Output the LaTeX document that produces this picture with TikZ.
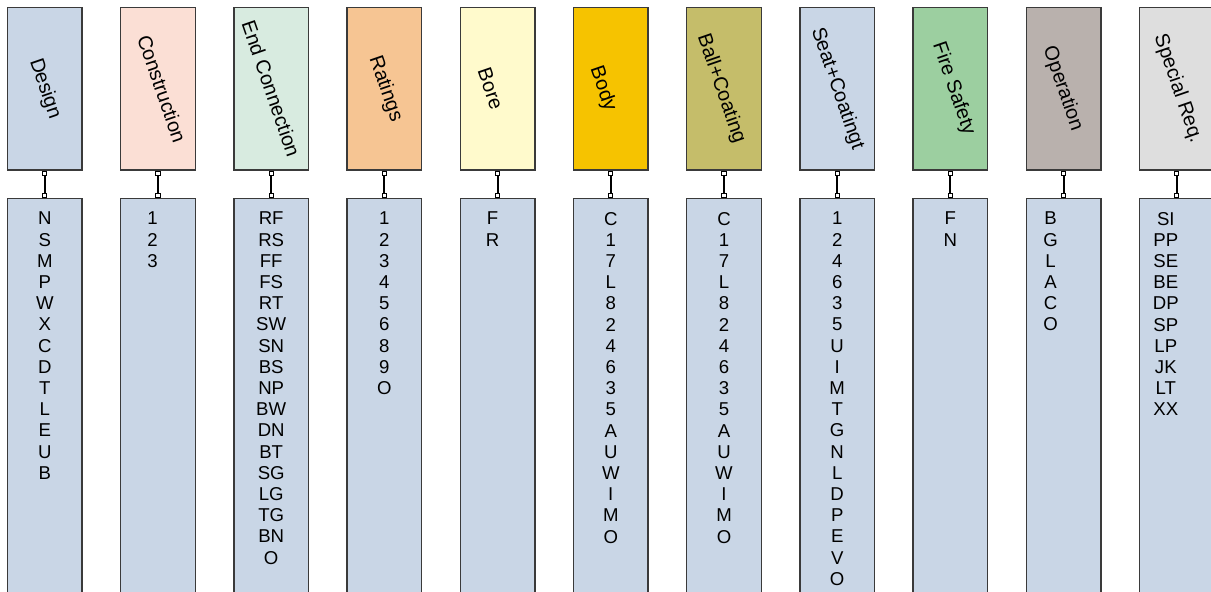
\documentclass[tikz,border=0pt]{standalone}
\usepackage{fontspec}
\setmainfont{Liberation Sans}
\usetikzlibrary{arrows.meta}
\definecolor{boxline}{HTML}{3A3A3A}
\definecolor{listblue}{HTML}{C9D6E6}
\definecolor{cdesign}{HTML}{C9D6E6}
\definecolor{cconstr}{HTML}{FBDFD5}
\definecolor{cend}{HTML}{D8EBE0}
\definecolor{crating}{HTML}{F6C593}
\definecolor{cbore}{HTML}{FFFACC}
\definecolor{cbody}{HTML}{F6C300}
\definecolor{cball}{HTML}{C5BD6A}
\definecolor{cseat}{HTML}{C9D6E6}
\definecolor{cfire}{HTML}{9CCFA0}
\definecolor{coper}{HTML}{B9B1AD}
\definecolor{cspecial}{HTML}{DEDEDE}
\tikzset{
  headbox/.style={draw=boxline, line width=0.7pt, minimum width=37.35pt, minimum height=81.25pt, inner sep=0pt},
  listbox/.style={draw=boxline, line width=0.7pt, fill=listblue, minimum width=37.35pt, minimum height=200pt, anchor=north, inner sep=0pt},
  headtxt/.style={font=\fontsize{10}{12}\selectfont, rotate=-71, inner sep=0pt},
  listtxt/.style={font=\fontsize{9.3}{10.6}\selectfont, align=center, anchor=north, inner sep=0pt},
  link/.style={line width=1pt, {Square[open,length=2.6pt,width=2.6pt,line width=0.5pt]}-{Square[open,length=2.6pt,width=2.6pt,line width=0.5pt]}}
}
\begin{document}
\begin{tikzpicture}[x=0.5pt,y=-0.5pt]
  \useasboundingbox (0,0) rectangle (1211,591);
  \clip (0,0) rectangle (1211,591);
  \foreach \i/\col/\head/\hx/\items/\lx in {
    0/cdesign/Design/0/{N\\S\\M\\P\\W\\X\\C\\D\\T\\L\\E\\U\\B}/0,
    1/cconstr/Construction/2/{1\\2\\3}/-2.75,
    2/cend/End Connection/0/{RF\\RS\\FF\\FS\\RT\\SW\\SN\\BS\\NP\\BW\\DN\\BT\\SG\\LG\\TG\\BN\\O}/0,
    3/crating/Ratings/0.5/{1\\2\\3\\4\\5\\6\\8\\9\\O}/0,
    4/cbore/Bore/-3.5/{F\\R}/-2.5,
    5/cbody/Body/-4/{C\\1\\7\\L\\8\\2\\4\\6\\3\\5\\A\\U\\W\\I\\M\\O}/0,
    6/cball/Ball+Coating/-1.5/{C\\1\\7\\L\\8\\2\\4\\6\\3\\5\\A\\U\\W\\I\\M\\O}/0,
    7/cseat/Seat+Coatingt/0/{1\\2\\4\\6\\3\\5\\U\\I\\M\\T\\G\\N\\L\\D\\P\\E\\V\\O}/0,
    8/cfire/Fire Safety/1.5/{F\\N}/0,
    9/coper/Operation/-0.5/{B\\G\\L\\A\\C\\O}/-6.5,
    10/cspecial/Special Req./0.5/{SI\\PP\\SE\\BE\\DP\\SP\\LP\\JK\\LT\\XX}/-5.5}{
    \node[headbox, fill=\col] (h\i) at ({44.8+113.2*\i},88.75) {};
    \node[headtxt] (ht\i) at ([xshift=\hx pt]h\i.center) {\head};
    \node[listbox] (l\i) at ({44.8+113.2*\i},198) {};
    \node[listtxt] (lt\i) at ([xshift=\lx pt, yshift=-6.85pt]l\i.north) {\items};
    \draw[link] (h\i) -- (l\i);
  }
\end{tikzpicture}
\end{document}
